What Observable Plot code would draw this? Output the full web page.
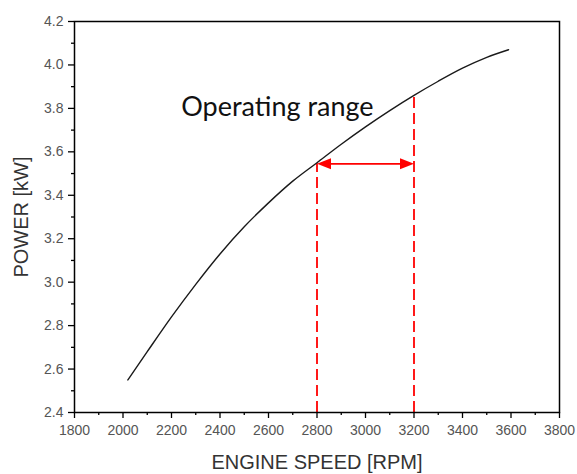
<!DOCTYPE html>
<html>
<head>
<meta charset="utf-8">
<script src="https://cdn.jsdelivr.net/npm/d3@7"></script>
<script src="https://cdn.jsdelivr.net/npm/@observablehq/plot@0.6"></script>
<style>
  html, body { margin: 0; padding: 0; background: #fff; }
  #chart { width: 577px; height: 474px; }
</style>
</head>
<body>
<div id="chart"></div>
<script>
// Engine speed (RPM) and power (kW)
const rpm   = [2020, 2100, 2200, 2300, 2400, 2500, 2600, 2700, 2800, 2900, 3000, 3100, 3200, 3300, 3400, 3500, 3590];
const power = [2.55, 2.68, 2.84, 2.99, 3.13, 3.255, 3.365, 3.465, 3.55, 3.635, 3.715, 3.79, 3.86, 3.925, 3.985, 4.035, 4.07];

// Axis ticks
const xMajor = [1800, 2000, 2200, 2400, 2600, 2800, 3000, 3200, 3400, 3600, 3800];
const xMinor = [1900, 2100, 2300, 2500, 2700, 2900, 3100, 3300, 3500, 3700];
const yMajor = [2.4, 2.6, 2.8, 3.0, 3.2, 3.4, 3.6, 3.8, 4.0, 4.2];
const yMinor = [2.5, 2.7, 2.9, 3.1, 3.3, 3.5, 3.7, 3.9, 4.1];

// Operating range annotation
const rangeStart = 2800, rangeEnd = 3200;
const rangeArrowY = 3.545;
const rangeTopStart = 3.545, rangeTopEnd = 3.87;
const annotationText = "Operating range";
const annotationX = 2240, annotationY = 3.765;

const curve = rpm.map((r, i) => ({rpm: r, power: power[i]}));
const dashes = [
  {x: rangeStart, y1: 2.4, y2: rangeTopStart},
  {x: rangeEnd,   y1: 2.4, y2: rangeTopEnd}
];
const heads = [
  {x: rangeStart, y: rangeArrowY, rot: 180},
  {x: rangeEnd,   y: rangeArrowY, rot: 0}
];

// Filled arrowhead symbol with the tip at the anchor point, pointing right
const arrowHead = {
  draw(ctx) {
    ctx.moveTo(0, 0);
    ctx.lineTo(-14, -5.5);
    ctx.lineTo(-14, 5.5);
    ctx.closePath();
  }
};

const tickFont = "'Liberation Sans', Arial, sans-serif";

const chart = Plot.plot({
  width: 577,
  height: 474,
  marginLeft: 74,
  marginRight: 18,
  marginTop: 21,
  marginBottom: 62,
  style: {fontFamily: tickFont, background: "#fff", overflow: "visible"},
  x: {domain: [1800, 3800]},
  y: {domain: [2.4, 4.2]},
  marks: [
    // dashed operating range limits
    Plot.ruleX(dashes, {x: "x", y1: "y1", y2: "y2", stroke: "#ff0000", strokeWidth: 1.8, strokeDasharray: "11,5"}),
    // double-headed arrow
    Plot.ruleY([rangeArrowY], {x1: rangeStart + 40, x2: rangeEnd - 40, y: d => d, stroke: "#ff0000", strokeWidth: 1.8}),
    Plot.dot(heads, {x: "x", y: "y", rotate: "rot", symbol: arrowHead, fill: "#ff0000", stroke: "none", r: 5}),
    // power curve
    Plot.line(curve, {x: "rpm", y: "power", stroke: "#1a1a1a", strokeWidth: 1.4, curve: "monotone-x"}),
    // annotation
    Plot.text([annotationText], {x: annotationX, y: annotationY, text: d => d, textAnchor: "start", lineAnchor: "bottom",
      fontFamily: "Lato, 'Open Sans', sans-serif", fontSize: 27, fill: "#111"}),
    // axes
    Plot.axisX({ticks: xMinor, tickSize: 3, text: null, label: null, stroke: "#000", strokeWidth: 1.3}),
    Plot.axisX({ticks: xMajor, tickSize: 6, tickPadding: 7, tickFormat: d3.format("d"), label: null,
      stroke: "#000", strokeWidth: 1.3, fill: "#555", fontSize: 14}),
    Plot.axisY({ticks: yMinor, tickSize: 3, text: null, label: null, stroke: "#000", strokeWidth: 1.3}),
    Plot.axisY({ticks: yMajor, tickSize: 6, tickPadding: 5, tickFormat: d3.format(".1f"), label: null,
      stroke: "#000", strokeWidth: 1.3, fill: "#555", fontSize: 14}),
    Plot.frame({stroke: "#000", strokeWidth: 1.5}),
    // axis titles
    Plot.text(["ENGINE SPEED [RPM]"], {frameAnchor: "bottom", dy: 50, text: d => d, fontSize: 20, fill: "#333",
      textAnchor: "middle", lineAnchor: "middle"}),
    Plot.text(["POWER [kW]"], {frameAnchor: "left", dx: -53, rotate: -90, text: d => d, fontSize: 20, fill: "#333",
      textAnchor: "middle", lineAnchor: "middle"})
  ]
});

document.getElementById("chart").appendChild(chart);
</script>
</body>
</html>
